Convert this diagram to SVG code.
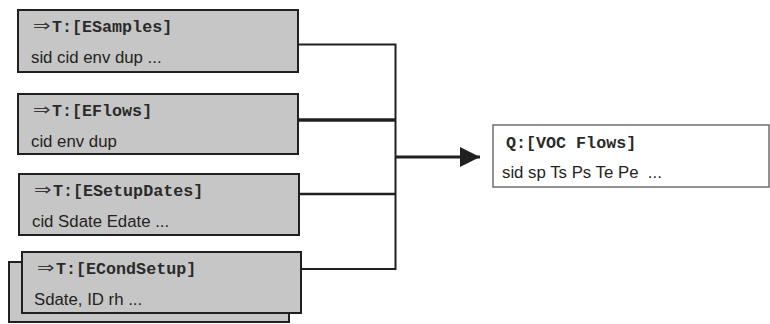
<svg xmlns="http://www.w3.org/2000/svg" width="770" height="324" viewBox="0 0 770 324">
<style>
.box{fill:#c6c6c6;stroke:#231f20;stroke-width:2}
.hd{font-family:"Liberation Mono","Courier New",monospace;font-weight:bold;font-size:16.7px;fill:#2a2a2a}
.ar{font-family:"DejaVu Sans",sans-serif;font-size:16px;fill:#3a3a3a}
.bd{font-family:"Liberation Sans",Arial,sans-serif;font-size:16.8px;fill:#231f20;white-space:pre}
.ln{fill:none;stroke:#231f20;stroke-width:2.5}
</style>
<defs>
<marker id="ah" markerWidth="20" markerHeight="20" refX="20" refY="10" orient="auto" markerUnits="userSpaceOnUse">
<path d="M0,0 L20,10 L0,20 Z" fill="#231f20"/>
</marker>
</defs>
<g id="connectors">
<path class="ln" d="M298,44.5 H395.5 V269 H301" style="stroke-width:2"/>
<path class="ln" d="M298,120 H395" style="stroke-width:3.5"/>
<path class="ln" d="M299,194 H395"/>
<path class="ln" d="M395,157 H480" marker-end="url(#ah)" style="stroke-width:3"/>
</g>
<g id="esamples">
<rect class="box" x="18" y="10" width="280" height="62"/>
<text class="ar" transform="translate(33,31) scale(1.3,1)">⇒</text>
<text class="hd" x="52" y="31.5">T:[ESamples]</text>
<text class="bd" x="31" y="63">sid cid env dup ...</text>
</g>
<g id="eflows">
<rect class="box" x="18" y="94" width="280" height="60"/>
<text class="ar" transform="translate(33,115) scale(1.3,1)">⇒</text>
<text class="hd" x="52" y="115.5">T:[EFlows]</text>
<text class="bd" x="31" y="147">cid env dup</text>
</g>
<g id="esetupdates">
<rect class="box" x="19" y="174" width="280" height="61"/>
<text class="ar" transform="translate(34,195) scale(1.3,1)">⇒</text>
<text class="hd" x="53" y="195.5">T:[ESetupDates]</text>
<text class="bd" x="32" y="227">cid Sdate Edate ...</text>
</g>
<g id="econdsetup">
<rect class="box" x="9" y="262" width="280" height="60"/>
<rect class="box" x="22" y="252" width="279" height="61"/>
<text class="ar" transform="translate(37,273) scale(1.3,1)">⇒</text>
<text class="hd" x="56" y="273.5">T:[ECondSetup]</text>
<text class="bd" x="34" y="305">Sdate, ID rh ...</text>
</g>
<g id="vocflows">
<rect x="493" y="125" width="276" height="62" fill="#fff" stroke="#6d6d6d" stroke-width="1.5"/>
<text class="hd" x="506" y="148">Q:[VOC Flows]</text>
<text class="bd" x="502" y="178">sid sp Ts Ps Te Pe  ...</text>
</g>
</svg>
